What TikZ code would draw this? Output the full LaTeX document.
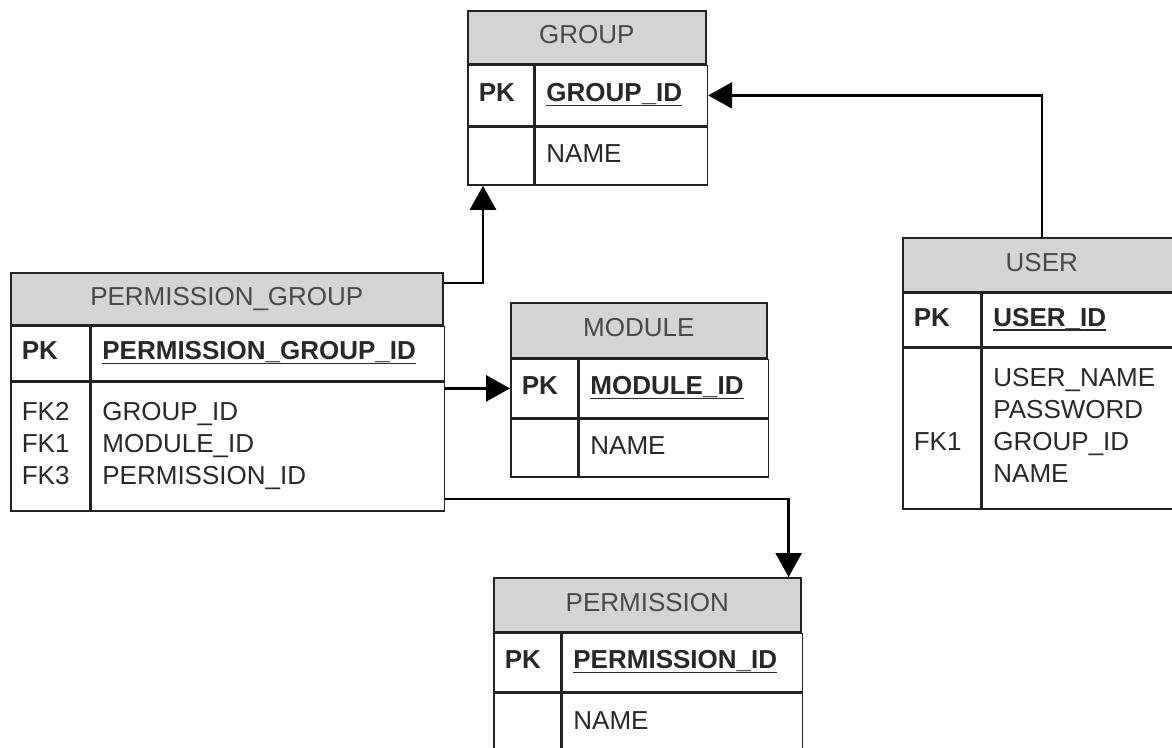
\documentclass[tikz,border=0pt]{standalone}
\usepackage{fontspec}
\setmainfont{Liberation Sans}
\usetikzlibrary{arrows.meta}
\definecolor{hdrgray}{RGB}{212,212,212}
\definecolor{inkline}{RGB}{35,35,35}
\definecolor{inktext}{RGB}{40,40,40}
% bold key name with an underline that adds no depth to the line
\newcommand\pkfield[1]{\setbox0\hbox{\textbf{#1}}\rlap{\smash{\rule[-4.5pt]{\wd0}{1.6pt}}}\box0}
\begin{document}
\begin{tikzpicture}[x=1pt,y=-1pt,
  every node/.style={font=\fontsize{26}{32}\selectfont, text=inktext},
  hdr/.style={draw=inkline, line width=1.6pt, fill=hdrgray, anchor=north west,
    inner sep=0pt, text=inktext!85!white,
    execute at begin node=\strut},
  cell/.style={draw=inkline, line width=1.6pt, fill=white, anchor=north west,
    inner xsep=11pt, inner ysep=0pt, align=left,
    execute at begin node=\strut, execute at end node=\strut},
  conn/.style={draw=black, line width=2.6pt,
    -{Triangle[length=24pt,width=26pt]}}]
\path[use as bounding box] (0,0) rectangle (1172,747);
\clip (0,0) rectangle (1172,747);

% GROUP
\node[hdr, minimum width=238pt, minimum height=53pt] (grp-hdr) at (467,10) {GROUP};
\node[cell, text width=44pt, minimum height=60pt] (grp-pk-k) at (grp-hdr.south west) {\textbf{PK}};
\node[cell, text width=150pt, minimum height=60pt] (grp-pk-a) at (grp-pk-k.north east) {\pkfield{GROUP\_ID}};
\node[cell, text width=44pt, minimum height=58pt] (grp-b-k) at (grp-pk-k.south west) {};
\node[cell, text width=150pt, minimum height=58pt] (grp-b-a) at (grp-b-k.north east) {NAME};

% PERMISSION_GROUP
\node[hdr, minimum width=432pt, minimum height=52pt] (pg-hdr) at (10,272) {PERMISSION\_GROUP};
\node[cell, text width=57pt, minimum height=54pt] (pg-pk-k) at (pg-hdr.south west) {\textbf{PK}};
\node[cell, text width=331pt, minimum height=54pt] (pg-pk-a) at (pg-pk-k.north east) {\pkfield{PERMISSION\_GROUP\_ID}};
\node[cell, text width=57pt, minimum height=129pt] (pg-b-k) at (pg-pk-k.south west) {FK2\\FK1\\FK3};
\node[cell, text width=331pt, minimum height=129pt] (pg-b-a) at (pg-b-k.north east) {GROUP\_ID\\MODULE\_ID\\PERMISSION\_ID};

% MODULE
\node[hdr, minimum width=256pt, minimum height=55pt] (mod-hdr) at (510,302) {MODULE};
\node[cell, text width=45pt, minimum height=58pt] (mod-pk-k) at (mod-hdr.south west) {\textbf{PK}};
\node[cell, text width=167pt, minimum height=58pt] (mod-pk-a) at (mod-pk-k.north east) {\pkfield{MODULE\_ID}};
\node[cell, text width=45pt, minimum height=58pt] (mod-b-k) at (mod-pk-k.south west) {};
\node[cell, text width=167pt, minimum height=58pt] (mod-b-a) at (mod-b-k.north east) {NAME};

% USER
\node[hdr, minimum width=278pt, minimum height=54pt] (usr-hdr) at (902,237) {USER};
\node[cell, text width=56pt, minimum height=53pt] (usr-pk-k) at (usr-hdr.south west) {\textbf{PK}};
\node[cell, text width=178pt, minimum height=53pt] (usr-pk-a) at (usr-pk-k.north east) {\pkfield{USER\_ID}};
\node[cell, text width=56pt, minimum height=161pt] (usr-b-k) at (usr-pk-k.south west) {\\\strut\\FK1\\};
\node[cell, text width=178pt, minimum height=161pt] (usr-b-a) at (usr-b-k.north east) {USER\_NAME\\PASSWORD\\GROUP\_ID\\NAME};

% PERMISSION (runs past the lower edge)
\node[hdr, minimum width=307pt, minimum height=54pt] (prm-hdr) at (493,577) {PERMISSION};
\node[cell, text width=45pt, minimum height=58pt] (prm-pk-k) at (prm-hdr.south west) {\textbf{PK}};
\node[cell, text width=218pt, minimum height=58pt] (prm-pk-a) at (prm-pk-k.north east) {\pkfield{PERMISSION\_ID}};
\node[cell, text width=45pt, minimum height=71pt] (prm-b-k) at (prm-pk-k.south west) {};
\node[cell, text width=218pt, minimum height=71pt] (prm-b-a) at (prm-b-k.north east) {\raisebox{6pt}{NAME}};

% relationships
\draw[conn] ([yshift=-11pt]pg-hdr.north east) -| ([xshift=16pt]grp-b-k.south west);
\draw[conn] (pg-b-a.east |- mod-pk-k.west) -- (mod-pk-k.west);
\draw[conn] ([yshift=13pt]pg-b-a.south east) -| ([xshift=-13pt]prm-hdr.north east);
\draw[conn] (usr-hdr.north) |- (grp-pk-a.east);
\end{tikzpicture}
\end{document}
